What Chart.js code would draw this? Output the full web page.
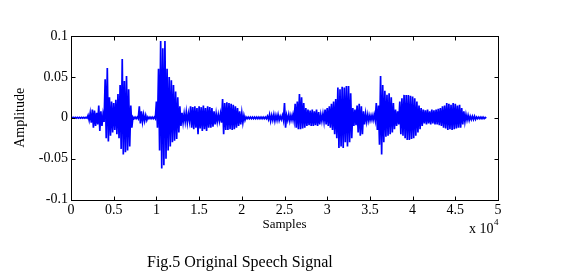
<!DOCTYPE html>
<html>
<head>
<meta charset="utf-8">
<script src="https://cdn.jsdelivr.net/npm/chart.js@4/dist/chart.umd.min.js"></script>
<style>
  html, body { margin: 0; padding: 0; background: #fff; }
  #wrap { position: relative; width: 564px; height: 279px; }
</style>
</head>
<body>
<div id="wrap"><canvas id="speechChart" width="564" height="279"></canvas></div>
<script>
// Values are in units of 1e-3 amplitude.
const binSize = 250;
const ampUnit = 0.001;

const upperPeaks = [
  0.5, 0.5, 0.5, 0.5, 0.5, 0.5, 0.5, 0.5,
  3, 6, 10, 9, 6, 15, 8, 4,
  47, 61, 25, 20, 18, 22, 29, 40,
  72, 45, 51, 35, 15, 1, 1, 1,
  14, 8, 4, 3, 1, 1, 1, 1,
  20, 60, 94, 85, 94, 60, 50, 46,
  40, 32, 25, 14, 6, 5, 7, 5,
  14, 13, 14, 12, 14, 13, 15, 12,
  14, 13, 12, 8, 5, 4, 5, 23,
  18, 19, 18, 17, 16, 14, 12, 8,
  6, 3, 1, 1, 1, 1, 1, 1,
  1, 1, 1, 1, 2, 4, 3, 4,
  3, 4, 2, 3, 18, 3, 4, 3,
  4, 17, 20, 29, 25, 18, 12, 10,
  9, 10, 8, 10, 7, 4, 5, 10,
  12, 14, 17, 20, 23, 37, 35, 38,
  37, 39, 39, 30, 12, 10, 15, 17,
  14, 8, 5, 4, 3, 3, 4, 18,
  15, 51, 40, 33, 28, 30, 25, 18,
  10, 8, 20, 24, 28, 28, 28, 27,
  26, 24, 20, 15, 12, 10, 9, 10,
  8, 10, 9, 10, 11, 12, 14, 15,
  18, 17, 16, 18, 17, 15, 16, 12,
  8, 4, 3, 2, 2, 2, 1, 1,
  1, 1, 0.5
];

const lowerPeaks = [
  -0.5, -0.5, -0.5, -0.5, -0.5, -0.5, -0.5, -0.5,
  -3, -6, -12, -10, -8, -16, -10, -5,
  -25, -29, -22, -18, -15, -20, -25, -38,
  -45, -42, -40, -35, -12, -1, -1, -1,
  -7, -5, -4, -3, -1, -1, -1, -1,
  -12, -40, -62, -58, -50, -40, -35, -30,
  -28, -26, -18, -10, -6, -5, -6, -4,
  -12, -14, -12, -20, -13, -16, -14, -16,
  -12, -12, -11, -8, -5, -4, -6, -20,
  -15, -15, -14, -15, -14, -12, -10, -8,
  -6, -3, -1, -1, -1, -1, -1, -1,
  -1, -1, -1, -1, -2, -4, -3, -4,
  -3, -3, -2, -3, -12, -3, -4, -3,
  -4, -12, -14, -14, -13, -12, -10, -9,
  -10, -10, -9, -10, -8, -4, -5, -8,
  -10, -12, -15, -20, -25, -37, -35, -37,
  -30, -35, -30, -25, -10, -9, -18, -22,
  -20, -8, -5, -4, -3, -3, -3, -15,
  -33, -45, -30, -23, -22, -20, -18, -14,
  -10, -8, -20, -22, -25, -27, -27, -26,
  -25, -22, -18, -14, -10, -7, -8, -7,
  -8, -7, -8, -8, -9, -10, -12, -13,
  -15, -14, -15, -14, -13, -12, -12, -8,
  -5, -3, -3, -2, -2, -2, -1, -1,
  -1, -1, -0.5
];

const xTicks = [0, 5000, 10000, 15000, 20000, 25000, 30000, 35000, 40000, 45000, 50000];
const xTickLabels = ['0', '0.5', '1', '1.5', '2', '2.5', '3', '3.5', '4', '4.5', '5'];
const yTicks = [-0.1, -0.05, 0, 0.05, 0.1];
const yTickLabels = ['-0.1', '-0.05', '0', '0.05', '0.1'];

// zigzag between the upper and lower peak of each bin
const wave = [];
upperPeaks.forEach((u, i) => {
  wave.push({ x: i * binSize, y: u * ampUnit });
  wave.push({ x: i * binSize + binSize / 2, y: lowerPeaks[i] * ampUnit });
});

const serif = "'Liberation Serif', 'Times New Roman', serif";
Chart.defaults.font.family = serif;
Chart.defaults.color = '#000';

// MATLAB style box with inward ticks, plus the exponent and caption
const frame = {
  id: 'frame',
  afterDraw(chart) {
    const { ctx, chartArea } = chart;
    const { x, y } = chart.scales;
    const l = Math.round(chartArea.left) + 0.5, r = Math.round(chartArea.right) + 0.5;
    const t = Math.round(chartArea.top) + 0.5, b = Math.round(chartArea.bottom) + 0.5;
    ctx.save();
    ctx.strokeStyle = '#000';
    ctx.lineWidth = 1;
    ctx.strokeRect(l, t, r - l, b - t);
    ctx.beginPath();
    xTicks.forEach(v => {
      const px = Math.round(x.getPixelForValue(v)) + 0.5;
      ctx.moveTo(px, b); ctx.lineTo(px, b - 4);
      ctx.moveTo(px, t); ctx.lineTo(px, t + 4);
    });
    yTicks.forEach(v => {
      const py = Math.round(y.getPixelForValue(v)) + 0.5;
      ctx.moveTo(l, py); ctx.lineTo(l + 4, py);
      ctx.moveTo(r, py); ctx.lineTo(r - 4, py);
    });
    ctx.stroke();

    ctx.fillStyle = '#000';
    ctx.textBaseline = 'alphabetic';
    ctx.textAlign = 'left';
    ctx.font = '14px ' + serif;
    ctx.fillText('x 10', 469, 233);
    ctx.font = '9px ' + serif;
    ctx.fillText('4', 494, 225);
    ctx.font = '16px ' + serif;
    ctx.fillText('Fig.5 Original Speech Signal', 147, 267);
    ctx.restore();
  }
};

new Chart(document.getElementById('speechChart'), {
  type: 'line',
  data: {
    datasets: [{
      data: wave,
      borderColor: '#0000ff',
      borderWidth: 1.7,
      pointRadius: 0,
      tension: 0,
      fill: false
    }]
  },
  options: {
    responsive: false,
    animation: false,
    layout: { padding: { left: 8, top: 36, right: 66, bottom: 47 } },
    plugins: { legend: { display: false }, tooltip: { enabled: false } },
    scales: {
      x: {
        type: 'linear',
        min: 0,
        max: 50000,
        afterBuildTicks: s => { s.ticks = xTicks.map(v => ({ value: v })); },
        ticks: {
          font: { size: 14 },
          padding: 2,
          maxRotation: 0,
          autoSkip: false,
          callback: (v, i) => xTickLabels[i]
        },
        grid: { display: false, drawTicks: false },
        border: { display: false },
        title: { display: true, text: 'Samples', font: { size: 13 }, padding: { top: -4, bottom: 0 } }
      },
      y: {
        min: -0.1,
        max: 0.1,
        afterBuildTicks: s => { s.ticks = yTicks.map(v => ({ value: v })); },
        afterFit: s => { s.width = 63; },
        ticks: {
          font: { size: 14 },
          padding: 3,
          autoSkip: false,
          callback: (v, i) => yTickLabels[i]
        },
        grid: { display: false, drawTicks: false },
        border: { display: false },
        title: { display: true, text: 'Amplitude', font: { size: 14 }, padding: { top: 4, bottom: 0 } }
      }
    }
  },
  plugins: [frame]
});
</script>
</body>
</html>
